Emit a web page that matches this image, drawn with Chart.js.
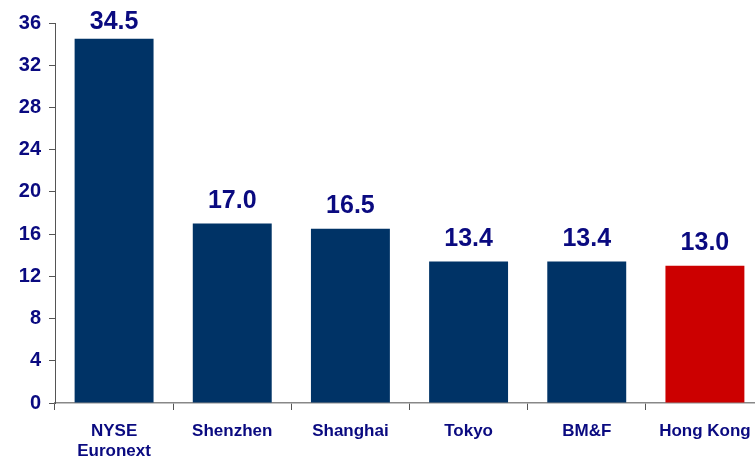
<!DOCTYPE html>
<html>
<head>
<meta charset="utf-8">
<script src="https://cdn.jsdelivr.net/npm/chart.js@4"></script>
<style>
html,body{margin:0;padding:0;background:#fff;overflow:hidden;width:755px;height:460px;}
#wrap{width:764px;height:460px;position:relative;}
</style>
</head>
<body>
<div id="wrap"><canvas id="c"></canvas></div>
<script>
const categories = [['NYSE','Euronext'], 'Shenzhen', 'Shanghai', 'Tokyo', 'BM&F', 'Hong Kong'];
const values = [34.5, 17.0, 16.5, 13.4, 13.4, 13.0];
const barColors = ['#003366', '#003366', '#003366', '#003366', '#003366', '#CC0000'];
const yTicks = [0, 4, 8, 12, 16, 20, 24, 28, 32, 36];

const labelColor = '#0A0A80';
const fontFamily = '"Liberation Sans", Arial, sans-serif';

const valueLabels = {
  id: 'valueLabels',
  afterDatasetsDraw(chart) {
    const ctx = chart.ctx;
    const meta = chart.getDatasetMeta(0);
    ctx.save();
    ctx.font = 'bold 25px ' + fontFamily;
    ctx.fillStyle = labelColor;
    ctx.textAlign = 'center';
    ctx.textBaseline = 'alphabetic';
    meta.data.forEach((bar, i) => {
      const y = Math.max(bar.y - 16, 29);
      ctx.fillText(values[i].toFixed(1), bar.x, y);
    });
    ctx.restore();
  }
};

new Chart(document.getElementById('c'), {
  type: 'bar',
  data: {
    labels: categories,
    datasets: [{
      data: values,
      backgroundColor: barColors,
      borderWidth: 0,
      categoryPercentage: 1,
      barPercentage: 0.668
    }]
  },
  options: {
    responsive: true,
    maintainAspectRatio: false,
    animation: false,
    layout: { padding: { top: 23, right: 0, left: 0, bottom: 0 } },
    plugins: { legend: { display: false }, tooltip: { enabled: false } },
    scales: {
      x: {
        offset: true,
        afterFit(scale) { scale.height = 57; },
        grid: { display: true, drawOnChartArea: false, offset: true, tickLength: 7, color: '#555', lineWidth: 1 },
        border: { display: true, color: '#888', width: 1.5 },
        ticks: { color: labelColor, font: { family: fontFamily, size: 17, weight: 'bold', lineHeight: 1.2 }, padding: 11, maxRotation: 0, autoSkip: false }
      },
      y: {
        min: 0, max: 36,
        afterFit(scale) { scale.width = 55; },
        afterBuildTicks(scale) { scale.ticks = yTicks.map(v => ({ value: v })); },
        grid: { display: true, drawOnChartArea: false, tickLength: 6, color: '#555', lineWidth: 1 },
        border: { display: true, color: '#555', width: 1 },
        ticks: { color: labelColor, font: { family: fontFamily, size: 20, weight: 'bold' }, padding: 8 }
      }
    }
  },
  plugins: [valueLabels]
});
</script>
</body>
</html>
